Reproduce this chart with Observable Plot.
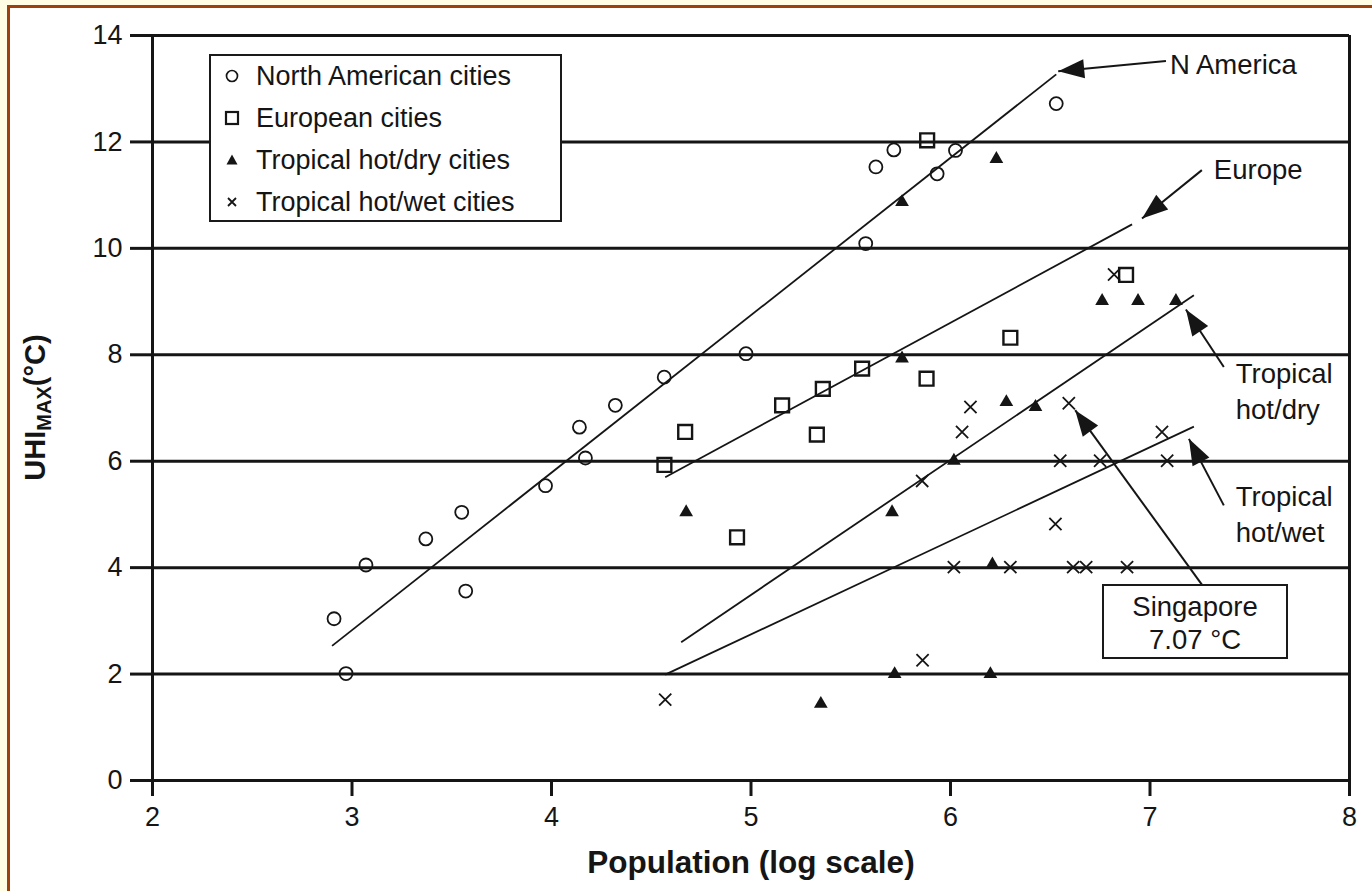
<!DOCTYPE html>
<html>
<head>
<meta charset="utf-8">
<script src="https://cdn.jsdelivr.net/npm/d3@7"></script>
<script src="https://cdn.jsdelivr.net/npm/@observablehq/plot@0.6"></script>
<style>
  html, body { margin: 0; padding: 0; background: #FFFDE3; }
  #wrap { position: relative; width: 1372px; height: 891px; background: #FFFDE3; overflow: hidden;
          font-family: "Liberation Sans", Arial, Helvetica, sans-serif; color: #151515; }
  #card { position: absolute; left: 7px; top: 5px; right: -10px; bottom: -10px; background: #fff;
          border-left: 3px solid #9E3F0E; border-top: 3px solid #9E3F0E; }
  #chart { position: absolute; left: 0; top: 0; }
  #legend { position: absolute; left: 209px; top: 54px; width: 349px; height: 164px;
            border: 2px solid #1a1a1a; background: #fff; }
  #legend .row { position: absolute; left: 0; height: 30px; display: flex; align-items: center; }
  #legend svg { width: 24px; height: 24px; margin-left: 9px; margin-right: 12px; }
  #legend span { font-size: 27px; line-height: 30px; white-space: nowrap; }
  #sing { position: absolute; left: 1102px; top: 584px; width: 186px; height: 75px;
          border: 2px solid #1a1a1a; background: #fff; text-align: center; font-size: 27.5px; line-height: 33px;
          padding-top: 4px; box-sizing: border-box; }
</style>
</head>
<body>
<div id="wrap">
  <div id="card"></div>
  <div id="chart"></div>
  <div id="legend"></div>
  <div id="sing">Singapore<br>7.07 °C</div>
</div>
<script>
// ---------- data ----------
const seriesNames = ["North American cities", "European cities", "Tropical hot/dry cities", "Tropical hot/wet cities"];

const naX = [2.91, 2.97, 3.07, 3.37, 3.55, 3.57, 3.97, 4.14, 4.17, 4.32, 4.565, 4.975, 5.575, 5.626, 5.716, 5.933, 6.025, 6.53];
const naY = [3.04, 2.01, 4.05, 4.54, 5.04, 3.56, 5.54, 6.64, 6.06, 7.05, 7.58, 8.02, 10.09, 11.53, 11.85, 11.40, 11.84, 12.72];

const euX = [4.566, 4.67, 4.93, 5.156, 5.33, 5.36, 5.557, 5.88, 5.883, 6.30, 6.88];
const euY = [5.93, 6.55, 4.57, 7.05, 6.50, 7.36, 7.74, 7.55, 12.03, 8.32, 9.50];

const dryX = [4.675, 5.35, 5.707, 5.72, 5.757, 5.757, 6.017, 6.20, 6.21, 6.23, 6.28, 6.426, 6.76, 6.94, 7.13];
const dryY = [5.04, 1.44, 5.04, 2.00, 7.93, 10.87, 6.01, 2.00, 4.06, 11.68, 7.11, 7.02, 9.01, 9.01, 9.01];

const wetX = [4.57, 5.86, 5.858, 6.017, 6.058, 6.10, 6.30, 6.526, 6.55, 6.593, 6.615, 6.68, 6.75, 6.82, 6.885, 7.06, 7.086];
const wetY = [1.52, 2.26, 5.63, 4.01, 6.55, 7.02, 4.01, 4.82, 6.01, 7.09, 4.01, 4.01, 6.01, 9.51, 4.01, 6.55, 6.01];

// regression lines: [x1, y1, x2, y2]
const fitNames = ["N America", "Europe", "Tropical hot/dry", "Tropical hot/wet"];
const fitX1 = [2.90, 4.57, 4.65, 4.57];
const fitY1 = [2.53, 5.70, 2.60, 1.99];
const fitX2 = [6.53, 6.91, 7.22, 7.22];
const fitY2 = [13.27, 10.45, 9.12, 6.65];

// annotation arrows (tail -> tip)
const arrowTailX = [7.08, 7.26, 7.37, 7.37, 7.26];
const arrowTailY = [13.52, 11.47, 7.77, 5.17, 3.68];
const arrowTipX  = [6.54, 6.96, 7.18, 7.195, 6.625];
const arrowTipY  = [13.33, 10.56, 8.85, 6.42, 6.96];

// annotation labels
const labelText = ["N America", "Europe", "Tropical\nhot/dry", "Tropical\nhot/wet"];
const labelX = [7.10, 7.32, 7.43, 7.43];
const labelY = [13.49, 11.52, 7.34, 5.03];

const xTicks = [2, 3, 4, 5, 6, 7, 8];
const yTicks = [0, 2, 4, 6, 8, 10, 12, 14];

// ---------- layout ----------
const W = 1372, H = 891;
const mL = 152, mR = 23, mT = 35, mB = 111;
const xDom = [2, 8], yDom = [0, 14];
const kx = (W - mL - mR) / (xDom[1] - xDom[0]);
const ky = (H - mT - mB) / (yDom[1] - yDom[0]);
const ink = "#151515";

const pts = (xs, ys) => xs.map((x, i) => ({x, y: ys[i]}));
const na = pts(naX, naY), eu = pts(euX, euY), dry = pts(dryX, dryY), wet = pts(wetX, wetY);
const fits = fitNames.map((n, i) => ({n, x1: fitX1[i], y1: fitY1[i], x2: fitX2[i], y2: fitY2[i]}));
const arrows = arrowTipX.map((x, i) => {
  const dx = (x - arrowTailX[i]) * kx;
  const dy = -(arrowTipY[i] - arrowTailY[i]) * ky;
  return {x1: arrowTailX[i], y1: arrowTailY[i], x2: x, y2: arrowTipY[i],
          angle: Math.atan2(dx, -dy) * 180 / Math.PI};
});
const labels = labelText.map((t, i) => ({t, x: labelX[i], y: labelY[i]}));

const headSymbol = {draw(ctx) { ctx.moveTo(0, 0); ctx.lineTo(-9.5, 26); ctx.lineTo(9.5, 26); ctx.closePath(); }};

const plot = Plot.plot({
  width: W, height: H,
  marginLeft: mL, marginRight: mR, marginTop: mT, marginBottom: mB,
  style: {background: "transparent", fontFamily: "'Liberation Sans', Arial, Helvetica, sans-serif", color: ink, overflow: "visible"},
  x: {domain: xDom},
  y: {domain: yDom},
  marks: [
    Plot.ruleY(yTicks, {stroke: ink, strokeWidth: 3}),
    Plot.ruleX([xDom[0], xDom[1]], {stroke: ink, strokeWidth: 3}),
    Plot.axisX({ticks: xTicks, tickSize: 16, tickPadding: 10, fontSize: 27, strokeWidth: 3, stroke: ink, fill: ink, label: null, tickFormat: d => String(d)}),
    Plot.axisY({ticks: yTicks, tickSize: 22, tickPadding: 8, fontSize: 27, strokeWidth: 3, stroke: ink, fill: ink, label: null, tickFormat: d => String(d)}),
    Plot.link(fits, {x1: "x1", y1: "y1", x2: "x2", y2: "y2", stroke: ink, strokeWidth: 1.8}),
    Plot.link(arrows, {x1: "x1", y1: "y1", x2: "x2", y2: "y2", stroke: ink, strokeWidth: 2}),
    Plot.dot(arrows, {x: "x2", y: "y2", symbol: headSymbol, rotate: "angle", fill: ink, stroke: "none"}),
    Plot.dot(na, {x: "x", y: "y", symbol: "circle", r: 6.5, stroke: ink, strokeWidth: 1.8, fill: "none"}),
    Plot.dot(eu, {x: "x", y: "y", symbol: "square", r: 7.8, stroke: ink, strokeWidth: 2.4, fill: "none"}),
    Plot.dot(dry, {x: "x", y: "y", symbol: "triangle", r: 5.1, fill: ink, stroke: "none"}),
    Plot.dot(wet, {x: "x", y: "y", symbol: "times", r: 5.6, stroke: ink, strokeWidth: 1.8, fill: "none"}),
    Plot.text(labels, {x: "x", y: "y", text: "t", textAnchor: "start", lineAnchor: "middle", fontSize: 27.5, lineHeight: 1.3, fill: ink}),
    Plot.text(["Population (log scale)"], {frameAnchor: "bottom", dy: 82, lineAnchor: "middle", fontSize: 31.5, fontWeight: "bold", fill: ink})
  ]
});
document.getElementById("chart").appendChild(plot);

// y axis label with subscript
const svg = d3.select(plot);
const yl = svg.append("text")
  .attr("transform", `translate(${mL - 107},${mT + (H - mT - mB) / 2}) rotate(-90)`)
  .attr("text-anchor", "middle")
  .attr("font-size", 29).attr("font-weight", "bold").attr("fill", ink)
  .attr("font-family", "'Liberation Sans', Arial, Helvetica, sans-serif");
yl.append("tspan").text("UHI");
yl.append("tspan").attr("font-size", 20).attr("dy", 6).text("MAX");
yl.append("tspan").attr("dy", -6).text("(°C)");

// legend
const legendSymbols = [
  '<circle cx="12" cy="12" r="5.5" fill="none" stroke="#151515" stroke-width="1.7"/>',
  '<rect x="6" y="6" width="12" height="12" fill="none" stroke="#151515" stroke-width="2.2"/>',
  '<path d="M12 6.5 L17.5 16.5 L6.5 16.5 Z" fill="#151515"/>',
  '<path d="M8 8 L16 16 M16 8 L8 16" stroke="#151515" stroke-width="1.8"/>'
];
const legend = document.getElementById("legend");
seriesNames.forEach((name, i) => {
  const row = document.createElement("div");
  row.className = "row";
  row.style.top = (5 + i * 42) + "px";
  row.innerHTML = `<svg viewBox="0 0 24 24">${legendSymbols[i]}</svg><span>${name}</span>`;
  legend.appendChild(row);
});
</script>
</body>
</html>
